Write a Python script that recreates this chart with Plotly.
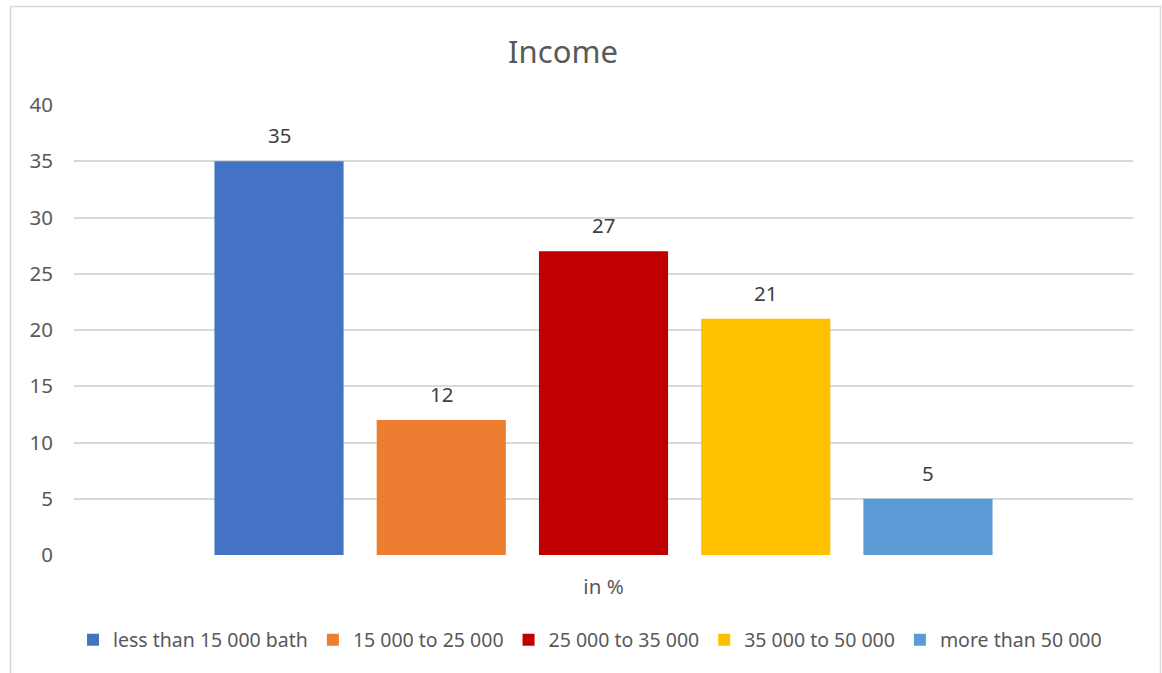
import plotly.graph_objects as go

# Income distribution (share of respondents, in %)
category = ["in %"]
series_names = [
    "less than 15 000 bath",
    "15 000 to 25 000",
    "25 000 to 35 000",
    "35 000 to 50 000",
    "more than 50 000",
]
series_values = [35, 12, 27, 21, 5]
series_colors = ["#4472C4", "#ED7D31", "#C00000", "#FFC000", "#5B9BD5"]

W, H = 1162, 673
L, R, T, B = 74, 29, 105, 118
BARGAP = 0.234
GROUPGAP = 0.204
FONT = "Noto Sans"
FS = 20.5
LEGEND_FS = 19.5
TEXT_COLOR = "#595959"
GRID = "#D9D9D9"

fig = go.Figure()
for name, val, col in zip(series_names, series_values, series_colors):
    fig.add_trace(go.Bar(
        name=name, x=category, y=[val],
        marker=dict(color=col, line=dict(width=0)),
    ))

# value labels above each bar, placed at each bar's slot centre
n = len(series_values)
slot = (1 - BARGAP) / n
for i, val in enumerate(series_values):
    fig.add_annotation(
        x=-0.5 + BARGAP / 2 + slot * (i + 0.5), y=val, xref="x", yref="y",
        text=str(val), showarrow=False, yanchor="bottom", yshift=10,
        font=dict(family=FONT, size=FS, color="#404040"),
    )

# chart border
pw, ph = W - L - R, H - T - B
fig.add_shape(
    type="rect", xref="paper", yref="paper",
    x0=(10.5 - L) / pw, x1=(1160.5 - L) / pw,
    y0=-(H + 20 - T - ph) / ph, y1=(H - 6.5 - B) / ph,
    line=dict(color=GRID, width=1.5), fillcolor="rgba(0,0,0,0)", layer="below",
)

fig.update_layout(
    width=W, height=H,
    margin=dict(l=L, r=R, t=T, b=B, autoexpand=False),
    paper_bgcolor="white", plot_bgcolor="white",
    barmode="group", bargap=BARGAP, bargroupgap=GROUPGAP,
    font=dict(family=FONT, size=FS, color=TEXT_COLOR),
    title=dict(text="Income", x=563 / W, xref="container", xanchor="center",
               y=1 - 52 / H, yref="container", yanchor="middle",
               font=dict(family=FONT, size=31, color=TEXT_COLOR)),
    showlegend=True,
    legend=dict(orientation="h", x=590 / W, xanchor="center", xref="container",
                y=1 - 640 / H, yref="container", yanchor="middle",
                font=dict(family=FONT, size=LEGEND_FS, color=TEXT_COLOR),
                itemwidth=30, traceorder="normal"),
    yaxis=dict(range=[0, 40], dtick=5, showgrid=True, gridcolor=GRID, gridwidth=1.5,
               zeroline=False, showline=False, ticks="", ticklabelstandoff=20,
               tickfont=dict(family=FONT, size=FS, color=TEXT_COLOR)),
    xaxis=dict(showline=False, ticks="", ticklabelstandoff=17,
               tickfont=dict(family=FONT, size=FS, color=TEXT_COLOR)),
)

fig.write_html("out.html")
